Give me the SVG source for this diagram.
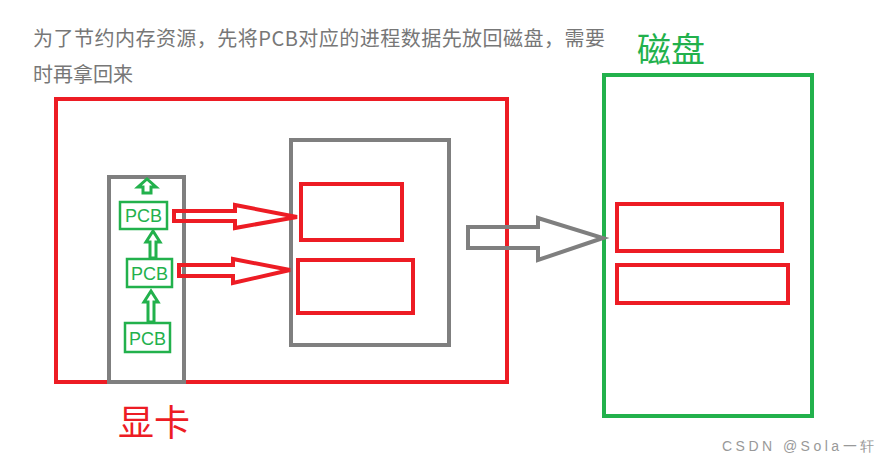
<svg xmlns="http://www.w3.org/2000/svg" width="890" height="465" viewBox="0 0 890 465">
<style>
.r{fill:none;stroke:#ed1c24;stroke-width:4}
.g{fill:none;stroke:#7f7f7f;stroke-width:4}
.gr{fill:none;stroke:#22b14c;stroke-width:4}
.pcb{fill:#fff;stroke:#22b14c;stroke-width:2.5}
.pt{font-family:"Liberation Sans",sans-serif;font-size:18px;fill:#22b14c}
.cjk{font-family:"Noto Sans CJK SC",sans-serif}
</style>
<rect width="890" height="465" fill="#fff"/>
<text class="cjk" x="33" y="46" font-size="20" fill="#777" textLength="572">为了节约内存资源，先将PCB对应的进程数据先放回磁盘，需要</text>
<text class="cjk" x="33" y="82" font-size="20" fill="#777">时再拿回来</text>
<g id="gpu">
<rect class="r" x="56" y="99" width="451" height="283"/>
<rect class="g" x="291" y="140" width="158" height="205"/>
<rect class="r" x="301" y="184" width="101" height="56"/>
<rect class="r" x="298" y="260" width="115" height="53"/>
<rect class="g" x="109" y="177" width="75" height="205"/>
<text class="cjk" x="118" y="436" font-size="36" fill="#ed1c24">显卡</text>
</g>
<g id="pcbs">
<rect class="pcb" x="120" y="202" width="47" height="27"/><text class="pt" x="143.5" y="222" text-anchor="middle">PCB</text>
<rect class="pcb" x="127" y="259" width="45" height="28"/><text class="pt" x="149.5" y="280" text-anchor="middle">PCB</text>
<rect class="pcb" x="125" y="323" width="45" height="29"/><text class="pt" x="147.5" y="345" text-anchor="middle">PCB</text>
</g>
<g id="disk">
<rect class="gr" x="604" y="75" width="208" height="341"/>
<rect class="r" x="617" y="204" width="165" height="47"/>
<rect class="r" x="617" y="265" width="171" height="38"/>
<text class="cjk" x="637" y="62" font-size="34" fill="#22b14c">磁盘</text>
</g>
<g id="connectors">
<path d="M143,193 V187 H138 L147,179 L156,187 H151 V193 Z" fill="none" stroke="#22b14c" stroke-width="3"/>
<path d="M150,258 V242 H146 L153,231 L160,242 H156 V258 Z" fill="none" stroke="#22b14c" stroke-width="3"/>
<path d="M148,322 V302 H144 L151,291 L158,302 H154 V322 Z" fill="none" stroke="#22b14c" stroke-width="3"/>
<path d="M174,211 H235 V205 L297,217 L235,228 V221 H174 Z" fill="none" stroke="#ed1c24" stroke-width="4"/>
<path d="M179,265 H233 V259 L290,270 L233,283 V276 H179 Z" fill="none" stroke="#ed1c24" stroke-width="4"/>
<path d="M468,227 H538 V218 L603,238 L538,260 V248 H468 Z" fill="none" stroke="#7f7f7f" stroke-width="4"/>
</g>
<text x="722" y="451" font-family="Liberation Sans,sans-serif" font-size="14" fill="#999" textLength="152">CSDN @Sola一轩</text>
</svg>
